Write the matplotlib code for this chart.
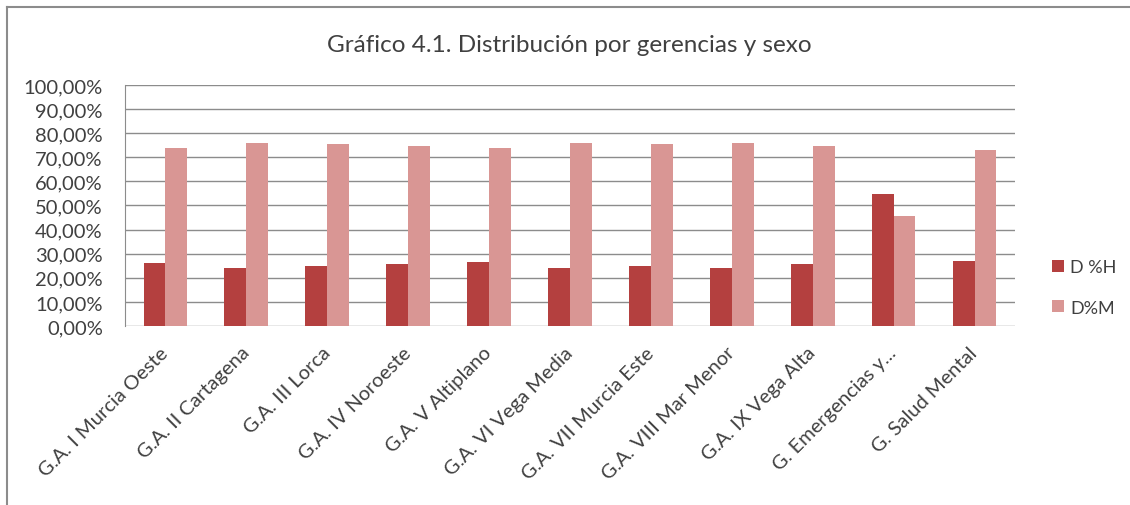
import matplotlib
matplotlib.use("Agg")
import matplotlib.pyplot as plt
from matplotlib.lines import Line2D
import numpy as np
from matplotlib.ticker import FuncFormatter

plt.rcParams['font.family'] = ['Lato', 'DejaVu Sans']

# gerencias y porcentajes por sexo
gerencias = ["G.A. I Murcia Oeste", "G.A. II Cartagena", "G.A. III Lorca",
             "G.A. IV Noroeste", "G.A. V Altiplano", "G.A. VI Vega Media",
             "G.A. VII Murcia Este", "G.A. VIII Mar Menor", "G.A. IX Vega Alta",
             "G. Emergencias y...", "G. Salud Mental"]
pct_h = [26.2, 24.2, 24.7, 25.6, 26.5, 24.2, 24.7, 24.2, 25.6, 54.6, 27.1]
pct_m = [74.0, 75.9, 75.3, 74.5, 73.7, 75.9, 75.3, 75.9, 74.5, 45.6, 73.1]
series_names = ["D %H", "D%M"]
colors = ["#B4403F", "#D99694"]
txt = "#404040"

fig = plt.figure(figsize=(11.30, 5.06), dpi=100)
ax = fig.add_axes([0.1106, 0.3538, 0.7876, 0.4763])

x = np.arange(len(gerencias))
w = 0.27
ax.bar(x - w / 2, pct_h, w, color=colors[0], label=series_names[0], zorder=3)
ax.bar(x + w / 2, pct_m, w, color=colors[1], label=series_names[1], zorder=3)

ax.set_ylim(0, 100)
ax.set_xlim(-0.5, len(gerencias) - 0.5)
ax.set_yticks(np.arange(0, 101, 10))
ax.yaxis.set_major_formatter(FuncFormatter(lambda v, p: f"{v:.2f}%".replace(".", ",")))
ax.grid(axis="y", color="#8c8c8c", linewidth=1, zorder=0)
for s in ["top", "right", "bottom"]:
    ax.spines[s].set_visible(False)
ax.spines["left"].set_color("#8c8c8c")
ax.tick_params(axis="y", length=0, labelsize=14.5, colors=txt, pad=16)
ax.tick_params(axis="x", length=0, labelsize=14.5, colors=txt, pad=17)
ax.set_xticks(x)
ax.set_xticklabels(gerencias, rotation=45, ha="right", va="center",
                   rotation_mode="anchor")

fig.text(0.504, 0.911, "Gráfico 4.1. Distribución por gerencias y sexo",
         ha="center", va="center", fontsize=17.5, color=txt)

fig.legend(loc="center left", bbox_to_anchor=(0.923, 0.43), frameon=False,
           fontsize=13, handlelength=0.65, handleheight=0.65, labelspacing=1.35,
           handletextpad=0.35, borderpad=0, labelcolor=txt)

# borde del gráfico (arriba e izquierda)
fig.add_artist(Line2D([0.006, 1.0], [0.985, 0.985], transform=fig.transFigure,
                      color="#8c8c8c", linewidth=1.5))
fig.add_artist(Line2D([0.006, 0.006], [0.0, 0.985], transform=fig.transFigure,
                      color="#8c8c8c", linewidth=1.5))

fig.savefig("out.png", dpi=100)
